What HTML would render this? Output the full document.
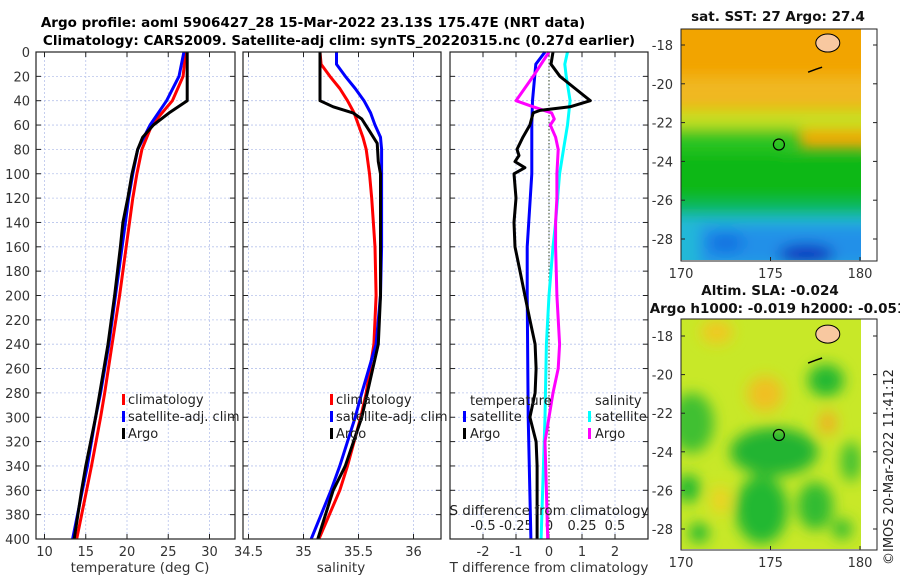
<!DOCTYPE html>
<html><head><meta charset="utf-8"><style>
body{margin:0;background:#fff}
svg{font-family:"DejaVu Sans","Liberation Sans",sans-serif;display:block}
</style></head><body>
<svg id="c" width="900" height="580" viewBox="0 0 900 580">
<defs>
<filter id="bl" x="-50%" y="-50%" width="200%" height="200%"><feGaussianBlur stdDeviation="7"/></filter>
<clipPath id="m1c"><rect x="681" y="29" width="180" height="231"/></clipPath>
<clipPath id="m2c"><rect x="681" y="319" width="180" height="230"/></clipPath>
</defs>
<g id="titles">
<text x="313" y="27" text-anchor="middle" font-weight="bold" font-size="13.5">Argo profile: aoml 5906427_28 15-Mar-2022 23.13S 175.47E (NRT data)</text>
<text x="339" y="45" text-anchor="middle" font-weight="bold" font-size="13.5">Climatology: CARS2009. Satellite-adj clim: synTS_20220315.nc (0.27d earlier)</text>
</g>
<g id="maps"></g>
<g id="plots"></g>
</svg>
<script>
// ---- data ----
const depthT = [0,20,40,50,60,70,80,100,120,140,160,200,240,280,300,340,360,400];
const argoT  = [27.3,27.3,27.3,25.1,23.2,21.9,21.3,20.6,20.1,19.5,19.2,18.5,17.7,16.7,16.2,15.0,14.5,13.6];
const depthC = [0,20,40,60,80,100,120,140,200,240,280,300,340,360,400];
const climT  = [27.1,26.8,25.5,23.0,21.8,21.2,20.7,20.3,19.1,18.2,17.3,16.8,15.7,15.1,13.9];
const satT   = [26.9,26.3,24.8,22.8,21.3,20.7,20.2,19.8,18.6,17.8,16.8,16.2,15.2,14.6,13.4];
const depthS = [0,40,45,50,55,65,75,90,100,160,200,240,280,300,340,360,400];
const argoS  = [35.15,35.15,35.27,35.45,35.53,35.6,35.67,35.68,35.7,35.7,35.7,35.68,35.58,35.53,35.38,35.27,35.13];
const depthSC = [0,10,20,30,40,50,60,70,80,100,120,160,200,240,280,300,340,360,400];
const climS  = [35.15,35.16,35.24,35.33,35.4,35.46,35.5,35.54,35.57,35.6,35.62,35.65,35.66,35.64,35.57,35.52,35.4,35.33,35.14];
const satS   = [35.3,35.3,35.38,35.47,35.55,35.61,35.65,35.7,35.71,35.71,35.71,35.71,35.7,35.66,35.53,35.47,35.33,35.25,35.07];
const depthD = [0,10,40,60,100,160,200,300,400];
const satDT  = [-0.12,-0.4,-0.5,-0.52,-0.52,-0.66,-0.66,-0.63,-0.55];
const depthAD = [0,10,20,30,40,45,48,50,60,70,80,85,90,95,100,120,140,160,180,200,220,240,260,280,300,320,340,360,380,400];
const argoDT = [0.12,0.06,0.33,0.79,1.25,0.64,-0.27,-0.48,-0.58,-0.79,-0.97,-0.91,-1.03,-0.73,-1.06,-1.0,-1.06,-1.03,-0.88,-0.73,-0.58,-0.42,-0.39,-0.42,-0.58,-0.39,-0.36,-0.36,-0.36,-0.36];
const depthDS = [0,10,20,40,60,80,100,140,160,200,240,300,400];
const satDS  = [0.14,0.12,0.13,0.16,0.14,0.11,0.08,0.05,0.03,0.0,-0.02,-0.03,-0.06];
const depthAS = [0,20,40,45,50,55,60,70,80,100,120,140,160,200,240,260,280,300,320,360,400];
const argoDS = [0.0,-0.12,-0.25,-0.12,0.02,0.04,0.01,0.05,0.07,0.06,0.06,0.05,0.05,0.06,0.08,0.07,0.03,0.0,-0.03,-0.02,-0.01];
const depthTicks = [0,20,40,60,80,100,120,140,160,180,200,220,240,260,280,300,320,340,360,380,400];
const tTicks = [10,15,20,25,30];
const sTicks = [34.5,35,35.5,36];
const dTTicks = [-2,-1,0,1,2];
const dSTicks = [-0.5,-0.25,0,0.25,0.5];
const latTicks = [-18,-20,-22,-24,-26,-28];
const lonTicks = [170,175,180];

const NS='http://www.w3.org/2000/svg';
function el(tag,attrs,parent,txt){const e=document.createElementNS(NS,tag);for(const k in attrs)e.setAttribute(k,attrs[k]);if(txt!==undefined)e.textContent=txt;parent.appendChild(e);return e;}
const plots=document.getElementById('plots');
const Y0=52,Y1=539;
const yD=d=>Y0+d*(Y1-Y0)/400;
const panels=[
 {x0:36,x1:235,sx:v=>44.5+(v-10)*8.25,ticks:tTicks,name:'temperature'},
 {x0:243,x1:441,sx:v=>303.5+(v-35)*110,ticks:sTicks,name:'salinity'},
 {x0:450,x1:648,sx:v=>549+v*33,ticks:dTTicks,name:'difference'}];
const sxDS=v=>549+v*132;

panels.forEach((p,i)=>{
  const g=el('g',{},plots);
  
  
  p.ticks.forEach(t=>{const l=el('line',{x1:p.sx(t),x2:p.sx(t),y1:Y0,y2:Y1,stroke:'#b8c4ec','stroke-width':0.8,'stroke-dasharray':'2,2'},g);
    });
  depthTicks.forEach(d=>{const l=el('line',{x1:p.x0,x2:p.x1,y1:yD(d),y2:yD(d),stroke:'#b8c4ec','stroke-width':0.8,'stroke-dasharray':'2,2'},g);
    
    el('line',{x1:p.x0,x2:p.x0+5,y1:yD(d),y2:yD(d),stroke:'#222'},g);
    el('line',{x1:p.x1-5,x2:p.x1,y1:yD(d),y2:yD(d),stroke:'#222'},g);});
  p.ticks.forEach(t=>{el('line',{x1:p.sx(t),x2:p.sx(t),y1:Y1,y2:Y1-5,stroke:'#222'},g);el('line',{x1:p.sx(t),x2:p.sx(t),y1:Y0,y2:Y0+5,stroke:'#222'},g);
    if(i<2){const tx=el('text',{x:p.sx(t),y:556,'text-anchor':'middle','font-size':13,fill:'#333'},g,String(t));}});
});
depthTicks.forEach(d=>{const t=el('text',{x:30,y:yD(d)+5,'text-anchor':'end','font-size':13,fill:'#333'},plots,String(d));
  });
dTTicks.forEach(t=>{const tx=el('text',{x:panels[2].sx(t),y:556,'text-anchor':'middle','font-size':13,fill:'#333'},plots,t<0?'-'+Math.abs(t):String(t));
  });
dSTicks.forEach(t=>{const tx=el('text',{x:sxDS(t),y:530,'text-anchor':'middle','font-size':13,fill:'#222'},plots,t<0?'-'+Math.abs(t):String(t));
  });
el('line',{x1:549,x2:549,y1:Y0,y2:Y1,stroke:'#334422','stroke-width':1,'stroke-dasharray':'1.5,2'},plots);

function line(xs,ds,sx,color,name,w){
  const pts=xs.map((v,k)=>sx(v).toFixed(1)+','+yD(ds[k]).toFixed(1)).join(' ');
  const pl=el('polyline',{points:pts,fill:'none',stroke:color,'stroke-width':w||3,'stroke-linejoin':'round'},plots);
  
  
}
line(climT,depthC,panels[0].sx,'#ff0000','temp-climatology-line');
line(satT,depthC,panels[0].sx,'#0000ff','temp-satellite-line');
line(argoT,depthT,panels[0].sx,'#000','temp-argo-line');
line(climS,depthSC,panels[1].sx,'#ff0000','sal-climatology-line');
line(satS,depthSC,panels[1].sx,'#0000ff','sal-satellite-line');
line(argoS,depthS,panels[1].sx,'#000','sal-argo-line');
line(satDT,depthD,panels[2].sx,'#0000ff','t-diff-satellite-line');
line(satDS,depthDS,sxDS,'#00ffff','s-diff-satellite-line');
line(argoDS,depthAS,sxDS,'#ff00ff','s-diff-argo-line');
line(argoDT,depthAD,panels[2].sx,'#000','t-diff-argo-line');

panels.forEach(p=>{const r=el('rect',{x:p.x0,y:Y0,width:p.x1-p.x0,height:Y1-Y0,fill:'none',stroke:'#222','stroke-width':1.2},plots);
  });

function txt(x,y,s,name,opts){const t=el('text',Object.assign({x:x,y:y,'font-size':13,fill:'#222'},opts||{}),plots,s);return t;}
function key(x,y,c){el('rect',{x:x,y:y-10,width:3,height:11,fill:c},plots);}
[[122],[330]].forEach(([x])=>{
  key(x,404,'#ff0000');txt(x+6,404,'climatology','legend-climatology');
  key(x,421,'#0000ff');txt(x+6,421,'satellite-adj. clim','legend-satellite-adj');
  key(x,438,'#000');txt(x+6,438,'Argo','legend-argo');});
txt(470,405,'temperature','legend-temperature-header');
key(463,421,'#0000ff');txt(470,421,'satellite','legend-t-satellite');
key(463,438,'#000');txt(470,438,'Argo','legend-t-argo');
txt(595,405,'salinity','legend-salinity-header');
key(588,421,'#00ffff');txt(595,421,'satellite','legend-s-satellite');
key(588,438,'#ff00ff');txt(595,438,'Argo','legend-s-argo');
txt(549,515,'S difference from climatology','s-diff-axis-title',{'text-anchor':'middle','font-size':13.5});
txt(140,572,'temperature (deg C)','x-axis-title-temperature',{'text-anchor':'middle','font-size':13.5,fill:'#333'});
txt(341,572,'salinity','x-axis-title-salinity',{'text-anchor':'middle','font-size':13.5,fill:'#333'});
txt(549,572,'T difference from climatology','x-axis-title-t-diff',{'text-anchor':'middle','font-size':13.5,fill:'#333'});

// ---- maps ----
const maps=document.getElementById('maps');
const lonX=l=>681+(l-170)*17.9;
function drawMap(top,bot,latY,clip,layers,mapName){
  const g=el('g',{},maps);
  
  
  const inner=el('g',{'clip-path':'url(#'+clip+')'},g);
  layers(inner);
  const isl=el('ellipse',{cx:lonX(178.2),cy:latY(-17.9),rx:12,ry:9,fill:'#f8c8a0',stroke:'#000','stroke-width':1},inner);
  
  
  el('path',{d:`M${lonX(177.1)} ${latY(-19.4)} l8 -3 l6 -2`,stroke:'#000','stroke-width':1.5,fill:'none'},inner);
  el('circle',{cx:lonX(175.47),cy:latY(-23.13),r:5.5,fill:'none',stroke:'#000','stroke-width':1.2},g);
  el('rect',{x:681,y:top,width:196,height:bot-top,fill:'none',stroke:'#222','stroke-width':1},g);
  latTicks.forEach(l=>{el('line',{x1:681,x2:685,y1:latY(l),y2:latY(l),stroke:'#222'},g);el('line',{x1:873,x2:877,y1:latY(l),y2:latY(l),stroke:'#222'},g);
    const t=el('text',{x:673,y:latY(l)+5,'text-anchor':'end','font-size':13,fill:'#333'},g,'-'+Math.abs(l));});
  lonTicks.forEach(l=>{el('line',{x1:lonX(l),x2:lonX(l),y1:bot,y2:bot-4,stroke:'#222'},g);
    const t=el('text',{x:lonX(l),y:bot+17,'text-anchor':'middle','font-size':13,fill:'#333'},g,String(l));});
}
const lat1=l=>45+(l+18)*-19.4;
drawMap(29,261,lat1,'m1c',g=>{
  el('rect',{x:681,y:29,width:180,height:231,fill:'#f2a400'},g);
  const b=el('g',{filter:'url(#bl)'},g);
  el('rect',{x:660,y:lat1(-19.6),width:220,height:30,fill:'#f0b820'},b);
  el('rect',{x:660,y:lat1(-21.3),width:220,height:22,fill:'#c8e020'},b);
  el('rect',{x:660,y:lat1(-22.3),width:140,height:40,fill:'#2cc420'},b);
  el('rect',{x:780,y:lat1(-23.3),width:90,height:25,fill:'#40c830'},b);
  el('rect',{x:660,y:lat1(-23.5),width:220,height:60,fill:'#10b818'},b);
  el('rect',{x:660,y:lat1(-26),width:220,height:30,fill:'#10b860'},b);
  el('rect',{x:660,y:lat1(-26.8),width:220,height:60,fill:'#20b8d8'},b);
  el('rect',{x:700,y:lat1(-27.3),width:180,height:40,fill:'#2090e8'},b);
  el('ellipse',{cx:lonX(177),cy:lat1(-28.8),rx:28,ry:10,fill:'#0830c0'},b);
  el('ellipse',{cx:lonX(172.5),cy:lat1(-28.2),rx:18,ry:9,fill:'#1070e0'},b);
  el('rect',{x:861,y:29,width:16,height:231,fill:'#fff'},g);
},'sst-map');
const lat2=l=>336+(l+18)*-19.3;
drawMap(319,550,lat2,'m2c',g=>{
  el('rect',{x:681,y:319,width:180,height:230,fill:'#c8e828'},g);
  const b=el('g',{filter:'url(#bl)'},g);
  [[172,-17.8,16,12,'#f0c820'],[174.7,-21,18,18,'#f0c020'],[178.2,-22.5,9,12,'#f0b020'],[172.2,-26.5,9,14,'#f0d020'],
   [178.1,-20.3,18,16,'#20b830'],[170.6,-22.5,22,30,'#40c030'],[175.2,-24,44,24,'#20b430'],[174.5,-27,26,34,'#20b830'],
   [177.5,-26.8,18,24,'#30bc30'],[170.4,-25.9,12,14,'#20b830'],[171,-28.2,10,10,'#20b830'],[179.5,-24.5,10,20,'#40c030'],
   [179,-28,10,10,'#30bc30']
  ].forEach(([lo,la,rx,ry,c])=>el('ellipse',{cx:lonX(lo),cy:lat2(la),rx:rx,ry:ry,fill:c},b));
  el('rect',{x:861,y:319,width:16,height:231,fill:'#fff'},g);
},'sla-map');
function mt(x,y,s,n){const t=el('text',{x:x,y:y,'text-anchor':'middle','font-weight':'bold','font-size':13.5,fill:'#111'},maps,s);}
mt(778,21,'sat. SST: 27 Argo: 27.4','sst-map-title');
mt(770,295,'Altim. SLA: -0.024','sla-map-title');
mt(778,313,'Argo h1000: -0.019 h2000: -0.051','sla-map-subtitle');
const cr=el('text',{x:0,y:0,'font-size':13,fill:'#222',transform:'translate(893,565) rotate(-90)'},maps,'©IMOS 20-Mar-2022 11:41:12');

</script>
</body></html>
